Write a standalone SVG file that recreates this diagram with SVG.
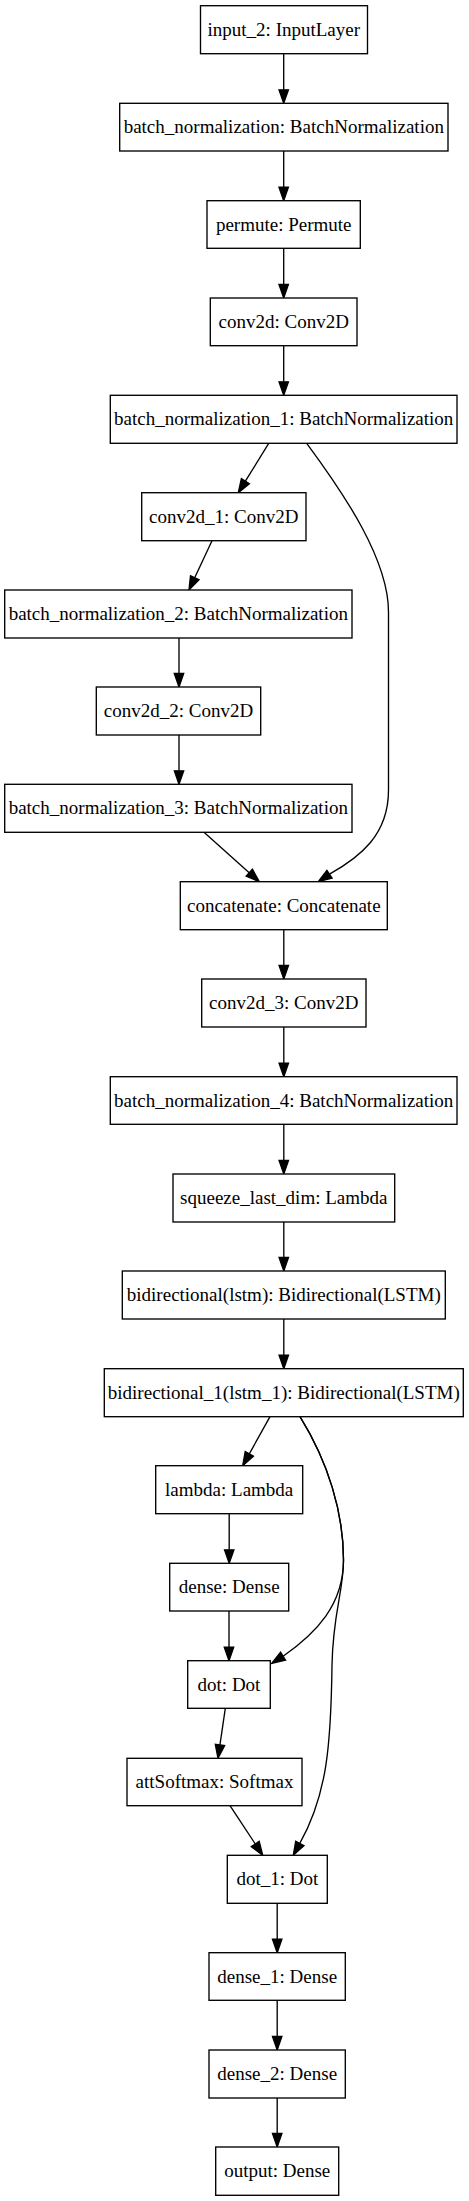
<svg xmlns="http://www.w3.org/2000/svg" width="469" height="2201" viewBox="0 0 469 2201">
<style>
.n rect{fill:#fff;stroke:#000;stroke-width:1.35}
.n text{font-family:"Liberation Serif","Times New Roman",serif;font-size:19px;text-anchor:middle;fill:#000}
.e path,.e line{fill:none;stroke:#000;stroke-width:1.35}
.e polygon{fill:#000;stroke:#000;stroke-width:1.35}
</style>
<rect width="469" height="2201" fill="#fff"/>
<g id="edges" class="e">
<line x1="283.7" y1="53.7" x2="283.7" y2="89.8"/><polygon points="279,89.8 283.7,103.3 288.4,89.8"/>
<line x1="283.7" y1="151" x2="283.7" y2="187.2"/><polygon points="279,187.2 283.7,200.7 288.4,187.2"/>
<line x1="283.7" y1="248.3" x2="283.7" y2="284.5"/><polygon points="279,284.5 283.7,298 288.4,284.5"/>
<line x1="283.7" y1="345.7" x2="283.7" y2="381.8"/><polygon points="279,381.8 283.7,395.3 288.4,381.8"/>
<line x1="268.7" y1="443.3" x2="245.4" y2="481.2"/><polygon points="249.4,483.7 238.3,492.7 241.4,478.7"/>
<path d="M306.7,443.3 C345,495 388.5,560 388.5,612 L388.5,790 C388.5,835 360,857 329.5,874.2"/><polygon points="332.1,878.1 318.3,881.7 326.9,870.3"/>
<line x1="212" y1="540.7" x2="194.7" y2="577.8"/><polygon points="199,579.8 189,590 190.5,575.8"/>
<line x1="179" y1="638" x2="179" y2="673.5"/><polygon points="174.3,673.5 179,687 183.7,673.5"/>
<line x1="179" y1="735" x2="179" y2="770.8"/><polygon points="174.3,770.8 179,784.3 183.7,770.8"/>
<line x1="204" y1="832.3" x2="249.2" y2="872.7"/><polygon points="246.1,876.2 259.3,881.7 252.4,869.2"/>
<line x1="283.8" y1="929.7" x2="283.8" y2="965.5"/><polygon points="279.1,965.5 283.8,979 288.5,965.5"/>
<line x1="283.8" y1="1027" x2="283.8" y2="1063.2"/><polygon points="279.1,1063.2 283.8,1076.7 288.5,1063.2"/>
<line x1="283.8" y1="1124.3" x2="283.8" y2="1160.5"/><polygon points="279.1,1160.5 283.8,1174 288.5,1160.5"/>
<line x1="283.8" y1="1222" x2="283.8" y2="1257.5"/><polygon points="279.1,1257.5 283.8,1271 288.5,1257.5"/>
<line x1="283.8" y1="1319" x2="283.8" y2="1355.2"/><polygon points="279.1,1355.2 283.8,1368.7 288.5,1355.2"/>
<line x1="270" y1="1416.7" x2="249.3" y2="1453.9"/><polygon points="253.4,1456.2 242.7,1465.7 245.2,1451.6"/>
<line x1="229.2" y1="1513.7" x2="229.2" y2="1549.8"/><polygon points="224.5,1549.8 229.2,1563.3 233.9,1549.8"/>
<line x1="229" y1="1611" x2="229" y2="1647.2"/><polygon points="224.3,1647.2 229,1660.7 233.7,1647.2"/>
<path d="M300,1416.7 C328,1462 343.5,1512 343.5,1560 C343.5,1605 316,1633 283.1,1656.2"/><polygon points="285.6,1660.2 271.7,1663.3 280.6,1652.2"/>
<path d="M300,1416.7 C328,1462 343.5,1512 343.5,1560 C343.5,1592 333,1612 332,1665 C331,1745 327,1795 299.8,1843.4"/><polygon points="303.9,1845.7 293.3,1855.3 295.7,1841.2"/>
<line x1="225.3" y1="1708.3" x2="219.95" y2="1744.9"/><polygon points="224.6,1745.6 218,1758.3 215.3,1744.3"/>
<line x1="230" y1="1805.7" x2="255.3" y2="1844"/><polygon points="251.3,1846.6 262.7,1855.3 259.2,1841.4"/>
<line x1="277.2" y1="1903.3" x2="277.2" y2="1939.2"/><polygon points="272.5,1939.2 277.2,1952.7 281.9,1939.2"/>
<line x1="277.2" y1="2000.3" x2="277.2" y2="2036.5"/><polygon points="272.5,2036.5 277.2,2050 281.9,2036.5"/>
<line x1="277.2" y1="2098" x2="277.2" y2="2133.5"/><polygon points="272.5,2133.5 277.2,2147 281.9,2133.5"/>
</g>
<g id="input_2" class="n"><rect x="200.5" y="5.7" width="167" height="48"/><text x="283.8" y="35.7">input_2: InputLayer</text></g>
<g id="batch_normalization" class="n"><rect x="119.7" y="103.3" width="328.3" height="47.7"/><text x="283.8" y="133.2">batch_normalization: BatchNormalization</text></g>
<g id="permute" class="n"><rect x="207" y="200.7" width="153.3" height="47.6"/><text x="283.7" y="230.5">permute: Permute</text></g>
<g id="conv2d" class="n"><rect x="210.3" y="298" width="146.7" height="47.7"/><text x="283.7" y="327.9">conv2d: Conv2D</text></g>
<g id="batch_normalization_1" class="n"><rect x="110.3" y="395.3" width="346.7" height="48"/><text x="283.7" y="425.3">batch_normalization_1: BatchNormalization</text></g>
<g id="conv2d_1" class="n"><rect x="141.7" y="492.7" width="164.3" height="48"/><text x="223.8" y="522.7">conv2d_1: Conv2D</text></g>
<g id="batch_normalization_2" class="n"><rect x="4.7" y="590" width="347.3" height="48"/><text x="178.3" y="620">batch_normalization_2: BatchNormalization</text></g>
<g id="conv2d_2" class="n"><rect x="96.3" y="687" width="164.4" height="48"/><text x="178.5" y="717">conv2d_2: Conv2D</text></g>
<g id="batch_normalization_3" class="n"><rect x="4.7" y="784.3" width="347.3" height="48"/><text x="178.3" y="814.3">batch_normalization_3: BatchNormalization</text></g>
<g id="concatenate" class="n"><rect x="180.3" y="881.7" width="207" height="48"/><text x="283.8" y="911.7">concatenate: Concatenate</text></g>
<g id="conv2d_3" class="n"><rect x="201.7" y="979" width="164.3" height="48"/><text x="283.8" y="1009">conv2d_3: Conv2D</text></g>
<g id="batch_normalization_4" class="n"><rect x="110.3" y="1076.7" width="346.7" height="47.6"/><text x="283.7" y="1106.5">batch_normalization_4: BatchNormalization</text></g>
<g id="squeeze_last_dim" class="n"><rect x="173" y="1174" width="221.7" height="48"/><text x="283.8" y="1204">squeeze_last_dim: Lambda</text></g>
<g id="bidirectional" class="n"><rect x="122.3" y="1271" width="323" height="48"/><text x="283.8" y="1301">bidirectional(lstm): Bidirectional(LSTM)</text></g>
<g id="bidirectional_1" class="n"><rect x="104.3" y="1368.7" width="359" height="48"/><text x="283.8" y="1398.7">bidirectional_1(lstm_1): Bidirectional(LSTM)</text></g>
<g id="lambda" class="n"><rect x="155.7" y="1465.7" width="147" height="48"/><text x="229.2" y="1495.7">lambda: Lambda</text></g>
<g id="dense" class="n"><rect x="169.7" y="1563.3" width="119" height="47.7"/><text x="229.2" y="1593.2">dense: Dense</text></g>
<g id="dot" class="n"><rect x="187.7" y="1660.7" width="82.6" height="47.6"/><text x="229" y="1690.5">dot: Dot</text></g>
<g id="attSoftmax" class="n"><rect x="127" y="1758.3" width="175" height="47.4"/><text x="214.5" y="1788">attSoftmax: Softmax</text></g>
<g id="dot_1" class="n"><rect x="227.3" y="1855.3" width="100" height="48"/><text x="277.3" y="1885.3">dot_1: Dot</text></g>
<g id="dense_1" class="n"><rect x="209" y="1952.7" width="136.3" height="47.6"/><text x="277.2" y="1982.5">dense_1: Dense</text></g>
<g id="dense_2" class="n"><rect x="209" y="2050" width="136.3" height="48"/><text x="277.2" y="2080">dense_2: Dense</text></g>
<g id="output" class="n"><rect x="215.7" y="2147" width="123" height="48.3"/><text x="277.2" y="2177.2">output: Dense</text></g>
</svg>
